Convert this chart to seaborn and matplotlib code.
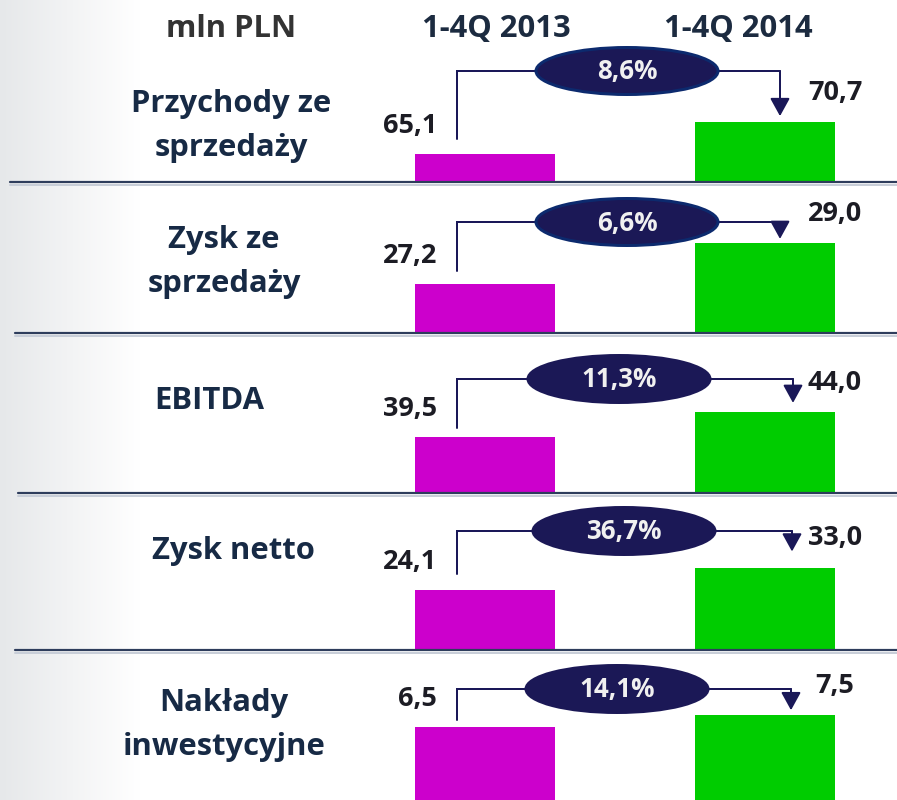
import numpy as np
import pandas as pd
import matplotlib
matplotlib.use("Agg")
import matplotlib.pyplot as plt
from matplotlib.patches import Ellipse
from matplotlib.colors import LinearSegmentedColormap
import seaborn as sns

# values (mln PLN)
unit_label = "mln PLN"
periods = ["1-4Q 2013", "1-4Q 2014"]
metrics = ["Przychody ze\nsprzedaży", "Zysk ze\nsprzedaży", "EBITDA", "Zysk netto", "Nakłady\ninwestycyjne"]
values_2013 = [65.1, 27.2, 39.5, 24.1, 6.5]
values_2014 = [70.7, 29.0, 44.0, 33.0, 7.5]
changes = [8.6, 6.6, 11.3, 36.7, 14.1]

# styling / layout (pixels, top-left origin)
bar_colors = ["#cc00cc", "#00cc00"]
navy = "#172a45"
line_col = "#1a1858"
ell_fill = "#1b1856"
ell_edge = ["#0c2a6e", "#0c2a6e", ell_fill, ell_fill, ell_fill]
row_bottom_px = [182, 333, 493, 650, 800]
row_ylim = [(60.2, 83.0), (25.05, 30.75), (29.4, 52.8), (0, 52.0), (0, 11.5)]
AX_H = 130
label_x = [231, 224, 209, 233, 224]
label_base = [112, 248, 409, 559, 711]
ell_x = [627, 627, 619, 624, 617]
ell_y = [71, 222, 379, 531, 689]
arrow_x = [780, 780, 793, 792, 791]
gap_start = [15, 13, 9, 16, 7]
gap_tip = [6, 4, 9, 16, 5]
sep_x0 = [10, 15, 18, 15]


def fmt(v):
    return f"{v:.1f}".replace(".", ",")


sns.set_style("white")
plt.rcParams["font.family"] = ["Open Sans", "DejaVu Sans"]

fig = plt.figure(figsize=(897 / 72, 800 / 72), dpi=72)
fig.patch.set_facecolor("white")

# overlay in pixel coordinates for text, separators and connectors
over = fig.add_axes([0, 0, 1, 1], zorder=5)
over.set_xlim(0, 897)
over.set_ylim(800, 0)
over.axis("off")
over.patch.set_alpha(0)

# soft grey shade on the left edge
shade = LinearSegmentedColormap.from_list("shade", ["#e6e8ea", "#ffffff"])
over.imshow(np.linspace(0, 1, 256)[None, :], cmap=shade, aspect="auto",
            extent=[0, 140, 800, 0], zorder=0)
over.set_xlim(0, 897)
over.set_ylim(800, 0)

# header row
over.text(231, 37, unit_label, ha="center", va="baseline", fontsize=31,
          fontweight="bold", color="#333333")
for name, hx in zip(periods, [496, 738]):
    over.text(hx, 37, name, ha="center", va="baseline", fontsize=31,
              fontweight="bold", color="#1c2b40")


def to_px(ax, x, y):
    disp = ax.transData.transform((x, y))
    return over.transData.inverted().transform(disp)


for i, metric in enumerate(metrics):
    yb = row_bottom_px[i]
    ax = fig.add_axes([345 / 897, 1 - yb / 800, 560 / 897, AX_H / 800], zorder=1)
    df = pd.DataFrame({"period": periods, "value": [values_2013[i], values_2014[i]]})
    sns.barplot(data=df, x="period", y="value", hue="period", palette=bar_colors,
                width=0.5, saturation=1, linewidth=0, legend=False, ax=ax)
    ax.set_xlim(-0.5, 1.5)
    ax.set_ylim(*row_ylim[i])
    ax.axis("off")
    ax.patch.set_alpha(0)

    # row label
    for k, part in enumerate(metric.split("\n")):
        over.text(label_x[i], label_base[i] + 44 * k, part, ha="center", va="baseline",
                  fontsize=31, fontweight="bold", color=navy)

    # value labels
    x13, top13 = to_px(ax, 0, values_2013[i])
    x14, top14 = to_px(ax, 1, values_2014[i])
    edge14, _ = to_px(ax, 1.25, 0)
    over.text(437, top13 - 21, fmt(values_2013[i]), ha="right", va="baseline",
              fontsize=27, fontweight="bold", color="#1c1c24")
    over.text(edge14, top14 - 22, fmt(values_2014[i]), ha="center", va="baseline",
              fontsize=27, fontweight="bold", color="#1c1c24")

    # connector with arrow
    yc = ell_y[i]
    over.plot([457, 457, arrow_x[i]], [top13 - gap_start[i], yc, yc],
              color=line_col, lw=2, solid_joinstyle="miter", zorder=3)
    over.annotate("", xy=(arrow_x[i], top14 - gap_tip[i]), xytext=(arrow_x[i], yc),
                  arrowprops=dict(arrowstyle="-|>,head_length=0.4,head_width=0.22",
                                  color=line_col, lw=2, mutation_scale=38,
                                  shrinkA=0, shrinkB=0), zorder=3)
    over.add_patch(Ellipse((ell_x[i], yc), 182, 47, facecolor=ell_fill,
                           edgecolor=ell_edge[i], lw=3, zorder=4))
    over.text(ell_x[i], yc + 1, f"{changes[i]:.1f}%".replace(".", ","), ha="center",
              va="center", fontsize=26, fontweight="bold", color="#f0f0f0", zorder=5)

    # separator under the row
    if i < len(sep_x0):
        over.plot([sep_x0[i], 897], [yb + 3, yb + 3], color="#c8ced8", lw=2, zorder=1)
        over.plot([sep_x0[i], 897], [yb, yb], color="#2e3d5c", lw=2.2, zorder=2)

fig.savefig("out.png", dpi=72, facecolor="white")
